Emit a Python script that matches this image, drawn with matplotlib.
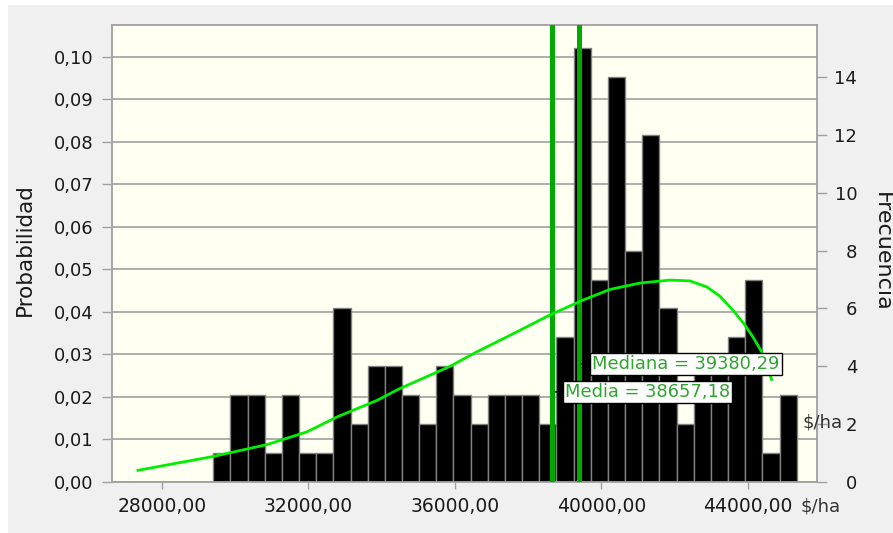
import numpy as np
import matplotlib
matplotlib.use('Agg')
import matplotlib.pyplot as plt
from matplotlib.patches import Rectangle
from matplotlib.ticker import FuncFormatter, MultipleLocator

# histogram of simulated margin ($/ha), 34 bins
bin_lo, bin_hi = 29400, 45329
freq = [1, 3, 3, 1, 3, 1, 1, 6, 2, 4, 4, 3, 2, 4, 3, 2, 3, 3, 3, 2,
        5, 15, 7, 14, 8, 12, 6, 2, 4, 4, 5, 7, 1, 3]

# fitted probability curve
curve_x = [27345, 29392, 30867, 31959, 32778, 33870, 34498, 35863, 36592,
           37502, 38594, 39495, 40232, 41051, 41870, 42416, 42872, 43235,
           43590, 43918, 44136, 44374, 44647]
curve_y = [0.00275, 0.0060, 0.0088, 0.0118, 0.0153, 0.0192, 0.0220, 0.0272, 0.0306,
           0.0345, 0.0393, 0.0428, 0.0453, 0.0468, 0.0475, 0.0473, 0.0459, 0.0437,
           0.0404, 0.0369, 0.0341, 0.0306, 0.0241]

media = 38657.18
mediana = 39380.29

x_ticks = [28000, 32000, 36000, 40000, 44000]
grid_c = '#a0a0a0'
txt_c = '#1a1a1a'
lab_c = '#2fa52f'

fig = plt.figure(figsize=(8.93, 5.33), dpi=100, facecolor='white')
fig.patches.append(Rectangle((8 / 893, 0), 1, 1 - 5 / 533, transform=fig.transFigure,
                             facecolor='#f0f0f0', edgecolor='none', zorder=-10))

ax = fig.add_axes([112 / 893, 51 / 533, 705 / 893, 457 / 533])
ax.set_facecolor('#fffff2')

total = sum(freq)
edges = np.linspace(bin_lo, bin_hi, len(freq) + 1)
prob = np.array(freq) / total
ax.bar(edges[:-1], prob, width=np.diff(edges), align='edge', color='black',
       edgecolor='#808080', linewidth=1, zorder=2)

ax.axvline(media, color='#00aa00', lw=3.6, zorder=3)
ax.axvline(mediana, color='#00aa00', lw=3.6, zorder=3)
ax.plot(curve_x, curve_y, color='#00ee00', lw=2, zorder=4, solid_joinstyle='round')

box = dict(boxstyle='square,pad=0.12', fc='white', ec='black', lw=1)
ax.annotate(f'Mediana = {mediana:.2f}'.replace('.', ','), xy=(mediana, 0.0278),
            xytext=(9.5, 0), textcoords='offset points', ha='left', va='center',
            fontsize=12.9, color=lab_c, bbox=box, zorder=6,
            arrowprops=dict(arrowstyle='-', color='black', lw=1))
ax.annotate(f'Media = {media:.2f}'.replace('.', ','), xy=(media, 0.0212),
            xytext=(9, 0), textcoords='offset points', ha='left', va='center',
            fontsize=12.9, color=lab_c, bbox=box, zorder=6,
            arrowprops=dict(arrowstyle='-', color='black', lw=1))

ymax = 0.1075
ax.set_xlim(26635, 45884)
ax.set_ylim(0, ymax)
ax.yaxis.set_major_locator(MultipleLocator(0.01))
ax.yaxis.set_major_formatter(FuncFormatter(lambda v, p: f'{v:.2f}'.replace('.', ',')))
ax.set_xticks(x_ticks)
ax.xaxis.set_major_formatter(FuncFormatter(lambda v, p: f'{v:.2f}'.replace('.', ',')))
ax.grid(axis='y', color=grid_c, lw=1.2, zorder=1)
ax.set_axisbelow(True)
ax.tick_params(axis='y', length=7.5, width=1, color=grid_c, pad=6, labelsize=13, labelcolor=txt_c)
ax.tick_params(axis='x', length=5, width=1, color=grid_c, pad=6, labelsize=13.5, labelcolor=txt_c)
for s in ax.spines.values():
    s.set_color(grid_c)
    s.set_linewidth(1.3)

ax2 = ax.twinx()
ax2.set_ylim(0, ymax * total)
ax2.set_yticks(range(0, 15, 2))
ax2.tick_params(axis='y', length=7.5, width=1, color=grid_c, pad=21.5, labelsize=13, labelcolor=txt_c)
for lbl in ax2.get_yticklabels():
    lbl.set_horizontalalignment('right')
for s in ax2.spines.values():
    s.set_visible(False)

fig.text(25 / 893, 1 - 250 / 533, 'Probabilidad', rotation=90, ha='center', va='center',
         fontsize=15.5, color=txt_c)
fig.text(882 / 893, 1 - 252 / 533, 'Frecuencia', rotation=270, ha='center', va='center',
         fontsize=16, color=txt_c)
fig.text(801 / 893, 1 - 506 / 533, r'\$/ha', ha='left', va='center', fontsize=13, color='#333333')
fig.text(802 / 893, 1 - 423 / 533, r'\$/ha', ha='left', va='center', fontsize=13, color='#333333')

fig.savefig('out.png', dpi=100, facecolor=fig.get_facecolor())
